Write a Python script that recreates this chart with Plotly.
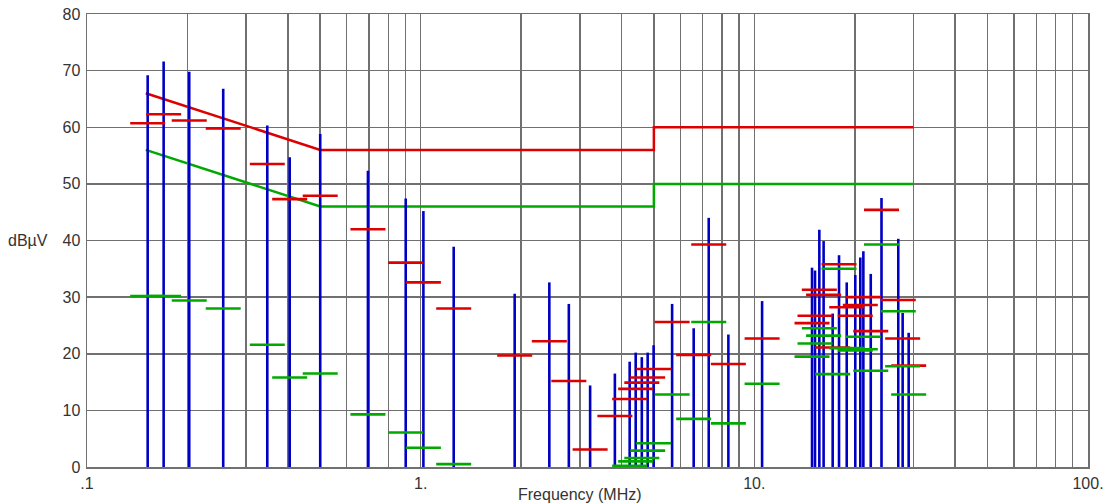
import plotly.graph_objects as go

# ---- data (frequency in MHz, levels in dBuV) ----
freq_mhz = [0.152, 0.1697, 0.2025, 0.256, 0.347, 0.405, 0.500, 0.695, 0.902, 1.019, 1.256,
            1.913, 2.43, 2.78, 3.22, 3.82, 4.23, 4.41, 4.60, 4.79, 4.99, 5.67, 6.58, 7.30,
            8.36, 10.55, 14.89, 15.20, 15.66, 16.13, 17.17, 17.94, 18.92, 20.07, 20.78,
            21.22, 22.33, 24.05, 27.0, 27.83, 29.01]
peak_dbuv = [69.2, 71.6, 69.8, 66.8, 60.3, 54.7, 58.8, 52.3, 47.4, 45.2, 38.9,
             30.6, 32.6, 28.8, 14.4, 16.5, 18.6, 20.2, 19.4, 20.2, 21.5, 28.8, 24.5, 44.0,
             23.4, 29.3, 35.2, 34.7, 41.9, 39.9, 27.1, 37.4, 32.6, 33.9, 37.0,
             38.1, 34.1, 47.5, 40.3, 27.2, 23.7]
qp_dbuv = [60.7, 62.3, 61.2, 59.8, 53.5, 47.3, 47.9, 42.0, 36.1, 32.6, 28.0,
           19.7, 22.2, 15.2, 3.1, 9.0, 12.0, 13.8, 14.9, 15.8, 17.3, 25.6, 19.8, 39.3,
           18.2, 22.7, 25.4, 26.7, 31.3, 30.4, 21.1, 35.8, 28.2, 26.7, 28.6,
           30.0, 24.0, 45.4, 29.5, 22.7, 17.9]
avg_dbuv = [30.2, 30.2, 29.4, 28.0, 21.6, 15.8, 16.5, 9.3, 6.1, 3.4, 0.5,
            None, None, None, None, None, 0.2, 1.0, 1.6, 2.9, 4.2, 12.8, 8.5, 25.6,
            7.7, 14.7, 19.5, 21.8, 24.5, 23.2, 16.4, 35.0, 21.0, 20.6, 20.8,
            23.0, 17.0, 39.3, 27.5, 17.8, 12.8]

# limit lines (CISPR-style)
limit_freq = [0.15, 0.5, 5.0, 5.0, 30.0]
limit_qp = [66, 56, 56, 60, 60]
limit_avg = [56, 46, 46, 50, 50]

# axis ticks
x_grid_vals = [0.1, 0.2, 0.3, 0.4, 0.5, 0.6, 0.7, 0.8, 0.9,
               1, 2, 3, 4, 5, 6, 7, 8, 9,
               10, 20, 30, 40, 50, 60, 70, 80, 90, 100]
x_grid_text = [".1", "", "", "", "", "", "", "", "",
               "1.", "", "", "", "", "", "", "", "",
               "10.", "", "", "", "", "", "", "", "", "100."]
y_ticks = [0, 10, 20, 30, 40, 50, 60, 70, 80]

BLUE = "#0000c4"
RED = "#dc0000"
GREEN = "#00a800"
GRID = "#707070"
TXT = "#333333"
FS = 16

# vertical peak bars built from data
bx, by = [], []
for f, p in zip(freq_mhz, peak_dbuv):
    bx += [f, f, None]
    by += [0, p, None]

fig = go.Figure()
fig.add_trace(go.Scatter(x=limit_freq, y=limit_qp, mode="lines",
                         line=dict(color=RED, width=2.5), hoverinfo="skip"))
fig.add_trace(go.Scatter(x=limit_freq, y=limit_avg, mode="lines",
                         line=dict(color=GREEN, width=2.5), hoverinfo="skip"))
fig.add_trace(go.Scatter(x=bx, y=by, mode="lines",
                         line=dict(color=BLUE, width=2.6), hoverinfo="skip"))
fig.add_trace(go.Scatter(x=freq_mhz, y=qp_dbuv, mode="markers",
                         marker=dict(symbol="line-ew", size=25,
                                     line=dict(color=RED, width=2.6))))
fig.add_trace(go.Scatter(x=freq_mhz, y=avg_dbuv, mode="markers",
                         marker=dict(symbol="line-ew", size=25,
                                     line=dict(color=GREEN, width=2.6))))

fig.update_layout(
    width=1106, height=504,
    margin=dict(l=87, r=18, t=14, b=37, autoexpand=False),
    paper_bgcolor="white", plot_bgcolor="white",
    showlegend=False, hovermode=False,
    font=dict(family="Liberation Sans, Arial, sans-serif", size=FS, color=TXT),
)
fig.update_xaxes(type="log", range=[-1, 2], automargin=False,
                 tickmode="array", tickvals=x_grid_vals, ticktext=x_grid_text,
                 showgrid=True, gridcolor=GRID, gridwidth=1.5,
                 showline=True, linecolor=GRID, linewidth=1.5, mirror=True,
                 ticks="", ticklabelstandoff=1, zeroline=False,
                 ticklabeloverflow="allow",
                 tickfont=dict(size=FS, color=TXT))
fig.update_yaxes(range=[0, 80], tickmode="array", tickvals=y_ticks, automargin=False,
                 showgrid=True, gridcolor=GRID, gridwidth=1.5,
                 showline=True, linecolor=GRID, linewidth=1.5, mirror=True,
                 ticks="", ticklabelstandoff=2, zeroline=False,
                 ticklabeloverflow="allow",
                 tickfont=dict(size=FS, color=TXT))

fig.add_annotation(text="dBµV", xref="paper", yref="y", x=0, y=40,
                   xanchor="right", yanchor="middle", xshift=-37, showarrow=False,
                   font=dict(size=FS, color=TXT))
fig.add_annotation(text="Frequency (MHz)", xref="paper", yref="paper",
                   x=0.4925, y=0, xanchor="center", yanchor="top", yshift=-17,
                   showarrow=False, font=dict(size=FS, color=TXT))

# remove the default 8px page margin so the figure fills the window exactly
fig.write_html("out.html",
               config={"displayModeBar": False, "staticPlot": True},
               post_script="document.body.style.margin='0';document.body.style.overflow='hidden';")
